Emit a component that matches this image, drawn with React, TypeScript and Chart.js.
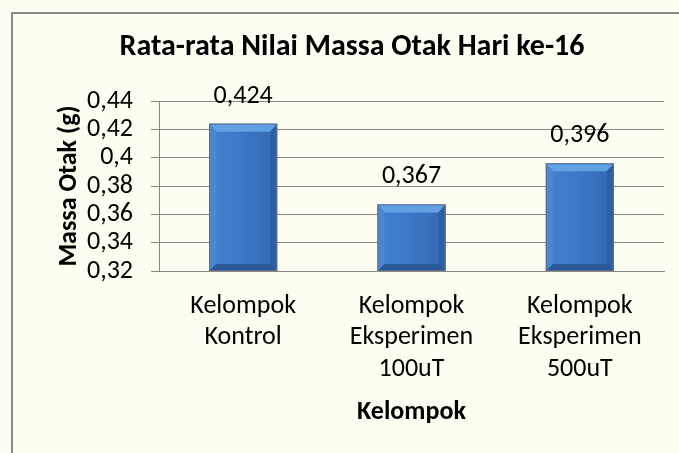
import React, { useEffect, useRef } from "react";
import { Chart, registerables } from "chart.js";

Chart.register(...registerables);

const categories: string[][] = [
  ["Kelompok", "Kontrol"],
  ["Kelompok", "Eksperimen", "100uT"],
  ["Kelompok", "Eksperimen", "500uT"],
];
const massaOtak: number[] = [0.424, 0.367, 0.396];
const yMin = 0.32;
const yMax = 0.44;
const yStep = 0.02;
const chartTitle = "Rata-rata Nilai Massa Otak Hari ke-16";
const xTitle = "Kelompok";
const yTitle = "Massa Otak (g)";

const FONT = "Carlito, Lato, 'Open Sans', sans-serif";

const fmt = (v: number) => String(Math.round(v * 1000) / 1000).replace(".", ",");

const backgroundPlugin = {
  id: "bgFrame",
  beforeDraw(chart: any) {
    const { ctx, width, height } = chart;
    ctx.save();
    ctx.fillStyle = "#FEFDF1";
    ctx.fillRect(0, 0, width, height);
    ctx.strokeStyle = "#8a8a8a";
    ctx.lineWidth = 2;
    ctx.beginPath();
    ctx.moveTo(width + 5, 13);
    ctx.lineTo(12, 13);
    ctx.lineTo(12, height + 5);
    ctx.stroke();
    ctx.restore();
  },
};

const bevelPlugin = {
  id: "bevelBars",
  afterDatasetsDraw(chart: any) {
    const { ctx, chartArea } = chart;
    const meta = chart.getDatasetMeta(0);
    ctx.save();
    meta.data.forEach((bar: any, i: number) => {
      const { x, y, base, width } = bar.getProps(["x", "y", "base", "width"], true);
      const l = x - width / 2;
      const r = x + width / 2;
      const t = y;
      const b = Math.min(base, chartArea.bottom);
      const bs = 7;
      const bt = 8;
      const poly = (pts: number[][], color: string) => {
        ctx.beginPath();
        ctx.moveTo(pts[0][0], pts[0][1]);
        for (let k = 1; k < pts.length; k++) ctx.lineTo(pts[k][0], pts[k][1]);
        ctx.closePath();
        ctx.fillStyle = color;
        ctx.fill();
      };
      const g = ctx.createLinearGradient(l, 0, r, 0);
      g.addColorStop(0, "#4282D0");
      g.addColorStop(0.5, "#3B77C4");
      g.addColorStop(1, "#3468B2");
      ctx.fillStyle = g;
      ctx.fillRect(l, t, width, b - t);
      poly([[l, t], [r, t], [r - bs, t + bt], [l + bs, t + bt]], "#62A0E4");
      poly([[l, t], [l + bs, t + bt], [l + bs, b - bs], [l, b]], "#4A88D4");
      poly([[r, t], [r - bs, t + bt], [r - bs, b - bs], [r, b]], "#2E5FA4");
      poly([[l, b], [l + bs, b - bs], [r - bs, b - bs], [r, b]], "#2B5898");
      ctx.strokeStyle = "#5C6F8C";
      ctx.lineWidth = 1;
      ctx.strokeRect(l + 0.5, t + 0.5, width - 1, b - t - 1);
      ctx.fillStyle = "#000000";
      ctx.font = `26px ${FONT}`;
      ctx.textAlign = "center";
      ctx.textBaseline = "alphabetic";
      ctx.fillText(fmt(massaOtak[i]), x, t - 21);
    });
    ctx.restore();
  },
};

export default function App() {
  const ref = useRef<HTMLCanvasElement | null>(null);
  useEffect(() => {
    if (!ref.current) return;
    const chart = new Chart(ref.current, {
      type: "bar",
      data: {
        labels: categories,
        datasets: [
          {
            data: massaOtak,
            backgroundColor: "rgba(0,0,0,0)",
            borderWidth: 0,
            barPercentage: 0.404,
            categoryPercentage: 1,
          },
        ],
      },
      options: {
        responsive: false,
        animation: false,
        layout: { padding: { left: 40, right: 15, top: 0, bottom: 0 } },
        plugins: {
          legend: { display: false },
          tooltip: { enabled: false },
          title: {
            display: true,
            text: chartTitle,
            color: "#000000",
            font: { family: FONT, size: 30, weight: "bold", lineHeight: 1.2 },
            padding: { top: 29, bottom: 36 },
          },
        },
        scales: {
          x: {
            grid: { display: false, drawTicks: false },
            border: { display: true, color: "#878787" },
            ticks: {
              color: "#000000",
              font: { family: FONT, size: 26, lineHeight: 1.2 },
              padding: 20,
              maxRotation: 0,
              autoSkip: false,
            },
            title: {
              display: true,
              text: xTitle,
              color: "#000000",
              font: { family: FONT, size: 26, weight: "bold", lineHeight: 1.2 },
              padding: { top: 0, bottom: 25 },
            },
            afterFit: (s: any) => {
              s.height = 182;
            },
          },
          y: {
            min: yMin,
            max: yMax,
            grid: { color: "#878787", tickLength: 8, drawTicks: true },
            border: { display: true, color: "#878787" },
            ticks: {
              stepSize: yStep,
              autoSkip: false,
              color: "#000000",
              font: { family: FONT, size: 26, lineHeight: 1.0 },
              padding: 18,
              callback: (v: any) => fmt(Number(v)),
            },
            title: {
              display: true,
              text: yTitle,
              color: "#000000",
              font: { family: FONT, size: 26, weight: "bold", lineHeight: 1.2 },
              padding: { top: 14, bottom: 0 },
            },
            afterFit: (s: any) => {
              s.width = 119;
            },
          },
        },
      },
      plugins: [backgroundPlugin, bevelPlugin],
    });
    return () => chart.destroy();
  }, []);
  return (
    <div style={{ position: "fixed", left: 0, top: 0, width: 679, height: 453 }}>
      <canvas ref={ref} width={679} height={453} style={{ width: 679, height: 453, display: "block" }} />
    </div>
  );
}
